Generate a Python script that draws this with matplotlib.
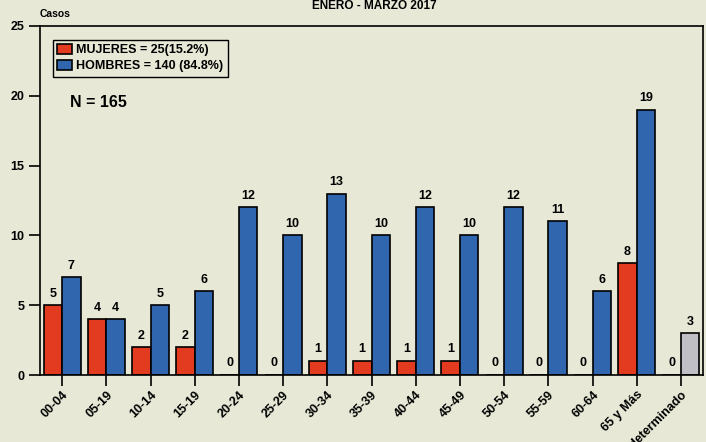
import matplotlib.pyplot as plt
import numpy as np

plt.rcParams['font.family'] = ['Liberation Sans', 'DejaVu Sans']
plt.rcParams['font.weight'] = 'bold'

grupos = ["00-04", "05-19", "10-14", "15-19", "20-24", "25-29", "30-34", "35-39",
          "40-44", "45-49", "50-54", "55-59", "60-64", "65 y Más", "Indeterminado"]
mujeres = [5, 4, 2, 2, 0, 0, 1, 1, 1, 1, 0, 0, 0, 8, 0]
hombres = [7, 4, 5, 6, 12, 10, 13, 10, 12, 10, 12, 11, 6, 19, 3]

bg = "#e7e9d6"
red = "#e23b1f"
blue = "#3066ae"
gray = "#c0bfc6"

fig = plt.figure(figsize=(7.06, 4.42), dpi=100, facecolor=bg)
ax = fig.add_axes([40/706, 67/442, 663/706, 349/442], facecolor=bg)

x = np.arange(len(grupos))
w = 0.42
h_colors = [blue] * (len(grupos) - 1) + [gray]
ax.bar(x - w/2, mujeres, w, color=red, edgecolor="black", linewidth=1.2,
       label="MUJERES = 25(15.2%)")
ax.bar(x + w/2, hombres, w, color=h_colors, edgecolor="black", linewidth=1.2,
       label="HOMBRES = 140 (84.8%)")

for xi, v in zip(x, mujeres):
    ax.annotate(str(v), (xi - w/2, v), xytext=(0, 4), textcoords="offset points",
                ha="center", va="bottom", fontsize=9, fontweight="bold")
for xi, v in zip(x, hombres):
    ax.annotate(str(v), (xi + w/2, v), xytext=(0, 4), textcoords="offset points",
                ha="center", va="bottom", fontsize=9, fontweight="bold")

ax.set_xlim(-0.5, len(grupos) - 0.5)
ax.set_ylim(0, 25)
ax.set_yticks([0, 5, 10, 15, 20, 25])
ax.set_xticks(x)
ax.set_xticklabels(grupos, rotation=45, ha="right", rotation_mode="anchor",
                   fontsize=9, fontweight="bold")
ax.tick_params(axis="y", length=8, width=1.2, labelsize=9, pad=3)
ax.tick_params(axis="x", length=8, width=1.2, pad=2)
for s in ax.spines.values():
    s.set_linewidth(1.2)

ax.legend(loc="upper left", bbox_to_anchor=(53/706, 1 - 40/442),
          bbox_transform=fig.transFigure, fancybox=False, edgecolor="black",
          facecolor=bg, framealpha=1, fontsize=9, handlelength=1.2,
          handleheight=0.8, handletextpad=0.3, borderpad=0.35,
          labelspacing=0.3, borderaxespad=0)

fig.text(70/706, 1 - 102/442, "N = 165", fontsize=11.5, fontweight="bold",
         va="center", ha="left")
fig.text(40/706, 1 - 14/442, "Casos", fontsize=7.5, fontweight="bold",
         va="center", ha="left")
fig.text(374/706, 1 - 6/442, "ENERO - MARZO 2017", fontsize=8.5, fontweight="bold",
         va="center", ha="center")

fig.savefig("out.png", dpi=100, facecolor=bg)
